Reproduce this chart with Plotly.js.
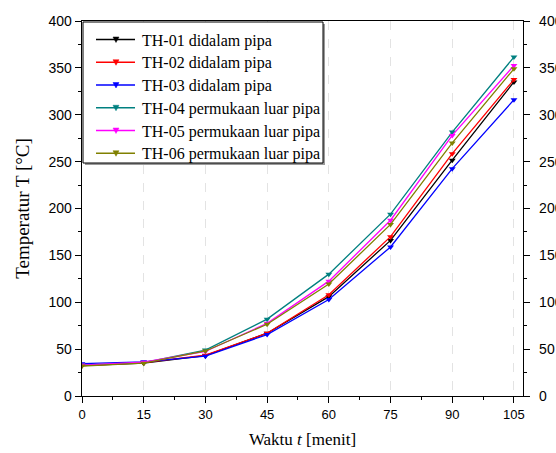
<!DOCTYPE html>
<html>
<head>
<meta charset="utf-8">
<script src="https://cdn.plot.ly/plotly-3.0.1.min.js"></script>
<style>html,body{margin:0;padding:0;background:#fff;}#chart{width:556px;height:453px;}</style>
</head>
<body>
<div id="chart"></div>
<script>
const time = [0, 15, 30, 45, 60, 75, 90, 105];
const th01 = [32.5, 35, 43, 67, 106, 166, 251.5, 335];
const th02 = [32.5, 35.5, 43.5, 67, 108, 170, 258.5, 337.5];
const th03 = [34.5, 36.5, 42.5, 65.5, 103, 159, 242.5, 316];
const th04 = [33, 35.5, 49, 82, 130, 194, 281.5, 361.5];
const th05 = [33, 36, 47.5, 77.5, 122.5, 187.5, 278, 352.5];
const th06 = [32, 35, 48, 76.5, 119.5, 183, 270, 349];
const names = ["TH-01 didalam pipa", "TH-02 didalam pipa", "TH-03 didalam pipa",
  "TH-04 permukaan luar pipa", "TH-05 permukaan luar pipa", "TH-06 permukaan luar pipa"];
const colors = ["#000000", "#ff0000", "#0000ff", "#008080", "#ff00ff", "#808000"];
const series = [th01, th02, th03, th04, th05, th06];

const traces = series.map((s, i) => ({
  x: time, y: s, name: names[i], type: "scatter", mode: "lines+markers",
  line: {color: colors[i], width: 1.3},
  marker: {symbol: "triangle-down", size: 6, color: colors[i]}
}));
traces.push({x: [0], y: [0], yaxis: "y2", showlegend: false, mode: "markers",
  marker: {opacity: 0}, hoverinfo: "skip"});

const SERIF = "'Liberation Serif', 'Times New Roman', serif";
const SANS = "'Liberation Sans', Arial, sans-serif";

// plot frame geometry (pixels)
const W = 556, H = 453, ML = 82, MR = 33, MT = 21, MB = 57;
const PW = W - ML - MR, PH = H - MT - MB;
const fx = p => (p - ML) / PW;
const fy = p => (H - MB - p) / PH;

// manual legend (box, samples, labels)
const shapes = [
  {type: "rect", xref: "paper", yref: "paper", x0: fx(85), x1: fx(325), y0: fy(165), y1: fy(24),
   fillcolor: "#9a9a9a", line: {width: 0}, layer: "above"},
  {type: "rect", xref: "paper", yref: "paper", x0: fx(83), x1: fx(323), y0: fy(163), y1: fy(22),
   fillcolor: "#fff", line: {color: "#000", width: 1}, layer: "above"}
];
const annotations = [];
names.forEach((n, i) => {
  const cy = 39.5 + i * 22.75;
  shapes.push({type: "line", xref: "paper", yref: "paper", x0: fx(96), x1: fx(135), y0: fy(cy), y1: fy(cy),
    line: {color: colors[i], width: 1.5}, layer: "above"});
  shapes.push({type: "path", xref: "paper", yref: "paper", layer: "above",
    path: `M${fx(113)},${fy(cy - 2.5)} L${fx(119)},${fy(cy - 2.5)} L${fx(116)},${fy(cy + 3)} Z`,
    fillcolor: colors[i], line: {color: colors[i], width: 0.5}});
  annotations.push({xref: "paper", yref: "paper", x: fx(140), y: fy(cy + 1), xanchor: "left", yanchor: "middle",
    text: n, showarrow: false, font: {family: SERIF, size: 16, color: "#000"}});
});

const layout = {
  width: W, height: H,
  margin: {l: ML, r: MR, t: MT, b: MB},
  paper_bgcolor: "#fff", plot_bgcolor: "#fff",
  font: {family: SANS},
  showlegend: false,
  shapes: shapes, annotations: annotations,
  xaxis: {range: [0, 107.2], tickvals: time, ticktext: time.map(String),
    ticks: "outside", ticklen: 6, tickwidth: 1, tickcolor: "#000",
    minor: {dtick: 7.5, tick0: 0, ticks: "outside", ticklen: 3, tickcolor: "#000", showgrid: false},
    showline: true, linecolor: "#000", linewidth: 1.3, mirror: true,
    showgrid: true, gridcolor: "#e3e3e3", griddash: "dash", gridwidth: 1,
    zeroline: false, tickfont: {family: SANS, size: 13, color: "#000"},
    title: {text: "Waktu <i>t</i> [menit]", standoff: 12,
      font: {family: SERIF, size: 17, color: "#000"}}},
  yaxis: {range: [0, 400], dtick: 50, tick0: 0,
    ticks: "outside", ticklen: 6, tickwidth: 1, tickcolor: "#000",
    minor: {dtick: 25, ticks: "outside", ticklen: 3, tickcolor: "#000", showgrid: false},
    showline: true, linecolor: "#000", linewidth: 1.3,
    showgrid: false, zeroline: false, tickfont: {family: SANS, size: 14, color: "#000"},
    title: {text: "Temperatur T [°C]", standoff: 14,
      font: {family: SERIF, size: 19, color: "#000"}}},
  yaxis2: {range: [0, 400], dtick: 50, tick0: 0, overlaying: "y", side: "right",
    ticks: "outside", ticklen: 6, tickwidth: 1, tickcolor: "#000",
    minor: {dtick: 25, ticks: "outside", ticklen: 3, tickcolor: "#000", showgrid: false},
    showline: true, linecolor: "#000", linewidth: 1.3, ticklabelstandoff: 6,
    showgrid: false, zeroline: false, tickfont: {family: SANS, size: 14, color: "#000"}}
};
Plotly.newPlot("chart", traces, layout, {displayModeBar: false, staticPlot: true});
</script>
</body>
</html>
